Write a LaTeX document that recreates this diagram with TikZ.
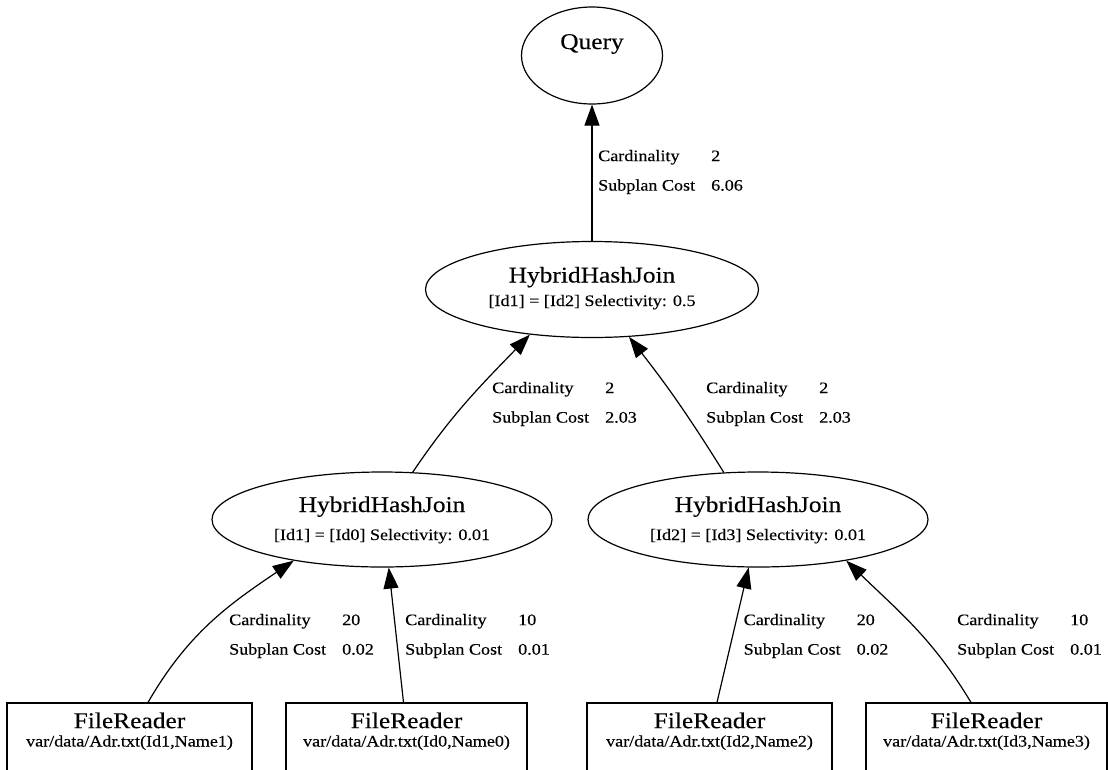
\documentclass[tikz,border=0pt]{standalone}
\usepackage{fontspec}
\setmainfont{Liberation Serif}[FakeStretch=1.13,FakeBold=0.25]
\usetikzlibrary{arrows.meta,shapes.geometric}

% type sizes: operator titles, and the small annotation text
\newcommand\titlef{\fontsize{22.5}{27}\selectfont}
\newcommand\opnotef{\fontsize{16}{28}\selectfont}
\newcommand\boxnotef{\fontsize{16}{18.4}\selectfont}
\newcommand\costf{\fontsize{16}{29.5}\selectfont}
% two-column cost annotation of an edge
\newcommand\costrows[2]{\makebox[113pt][l]{Cardinality}#1\\\makebox[113pt][l]{Subplan Cost}#2}

\begin{document}
\begin{tikzpicture}[x=1pt,y=-1pt,
  every node/.style={inner sep=0pt},
  opnode/.style={ellipse, draw, line width=1.2pt, align=center, font=\opnotef,
    minimum width=340pt, minimum height=95pt, text height=45pt, text depth=4pt},
  srcbox/.style={rectangle, draw, line width=1.2pt, align=center, font=\boxnotef,
    minimum height=80pt, text height=30pt, text depth=23pt},
  flow/.style={line width=1.2pt, -{Triangle[length=21pt,width=15pt]}},
  cost/.style={align=left, font=\costf, anchor=west},
]
\useasboundingbox (0,0) rectangle (1108,769);
\clip (0,0) rectangle (1108,769);
\fill[white] (0,0) rectangle (1108,769);

% plan operators
\node[opnode, minimum width=141pt, minimum height=97pt, text height=15pt, text depth=28pt]
  (q) at (592,55.5) {{\titlef Query}};
\node[opnode, minimum width=333pt, minimum height=96pt, text height=40pt, text depth=7pt]
  (ht) at (592,289.5)
  {{\titlef HybridHashJoin}\\[-4.5pt]{[Id1] = [Id2] Selectivity: 0.5}};
\node[opnode] (hl) at (382,519.5)
  {{\titlef HybridHashJoin}\\{[Id1] = [Id0] Selectivity: 0.01}};
\node[opnode] (hr) at (758,519.5)
  {{\titlef HybridHashJoin}\\{[Id2] = [Id3] Selectivity: 0.01}};

% file scans
\node[srcbox, minimum width=245pt] (b1) at (129.5,743)
  {{\titlef FileReader}\\var/data/Adr.txt(Id1,Name1)};
\node[srcbox, minimum width=241pt] (b2) at (406.5,743)
  {{\titlef FileReader}\\var/data/Adr.txt(Id0,Name0)};
\node[srcbox, minimum width=245pt] (b3) at (709.5,743)
  {{\titlef FileReader}\\var/data/Adr.txt(Id2,Name2)};
\node[srcbox, minimum width=241pt] (b4) at (986.5,743)
  {{\titlef FileReader}\\var/data/Adr.txt(Id3,Name3)};

% data flow, child to parent
\draw[flow] (ht.north) -- (q.south);
\draw[flow] (hl.57) to[out=56,in=226] (ht.216);
\draw[flow] (hr.126) to[out=122,in=308] (ht.308);
\draw[flow] ([xshift=18.5pt]b1.north) to[out=60,in=214] (hl.205);
\draw[flow] ([xshift=-3pt]b2.north) -- (hl.278);
\draw[flow] ([xshift=7.5pt]b3.north) -- (hr.259);
\draw[flow] ([xshift=-15.5pt]b4.north) to[out=121,in=316] (hr.335);

% edge annotations
\node[cost] (c0) at (598,172) {\costrows{2}{6.06}};
\node[cost] (c1) at (492,404) {\costrows{2}{2.03}};
\node[cost] (c2) at (706,404) {\costrows{2}{2.03}};
\node[cost] (c3) at (229,636) {\costrows{20}{0.02}};
\node[cost] (c4) at (405,636) {\costrows{10}{0.01}};
\node[cost] (c5) at (743.5,636) {\costrows{20}{0.02}};
\node[cost] (c6) at (957,636) {\costrows{10}{0.01}};
\end{tikzpicture}
\end{document}
